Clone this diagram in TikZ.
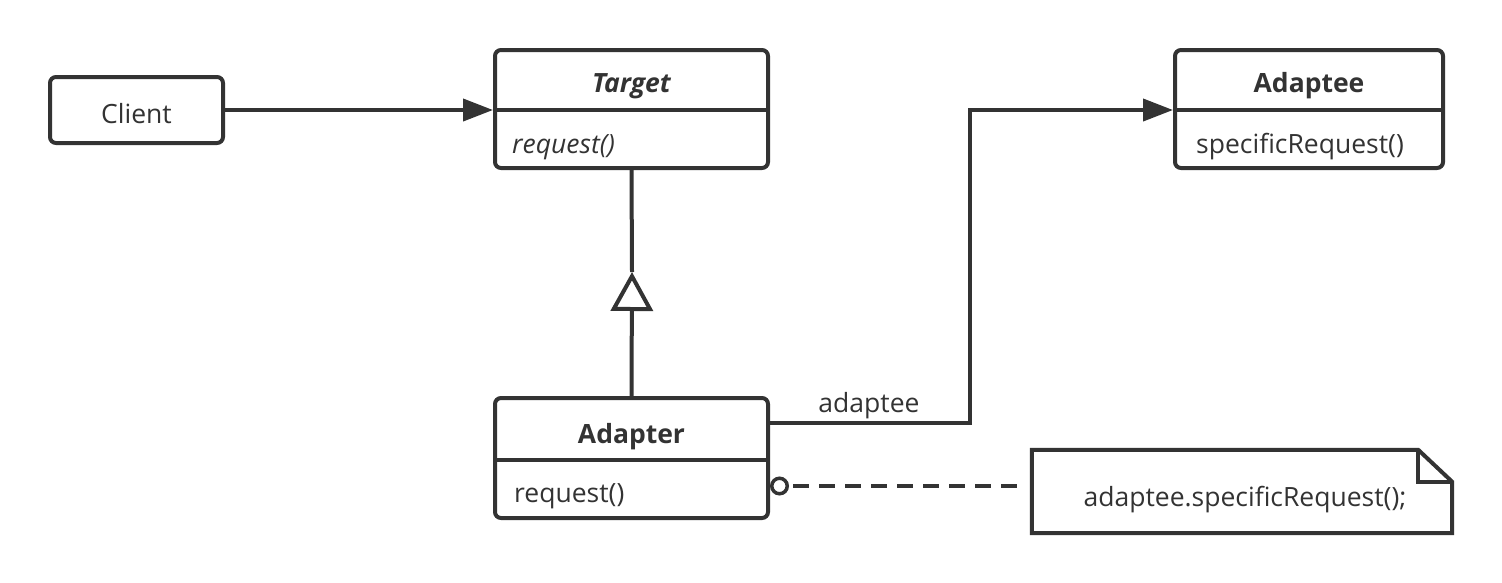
\documentclass[tikz,border=0pt]{standalone}
\usepackage{fontspec}
\setmainfont{Open Sans}
\usetikzlibrary{arrows.meta,calc}
\definecolor{ink}{HTML}{333333}
\tikzset{
  box/.style={draw=ink, line width=4pt, rounded corners=6pt, fill=white, inner sep=0pt},
  conn/.style={draw=ink, line width=4pt},
  lbl/.style={text=ink, inner sep=0pt, font=\fontsize{26.5}{30}\selectfont},
  blbl/.style={lbl, font=\fontsize{26.5}{30}\selectfont\bfseries},
  filltip/.style={-{Triangle[length=30pt,width=22pt]}},
}
\begin{document}
\begin{tikzpicture}[x=1pt,y=-1pt]
\useasboundingbox (0,0) rectangle (1502,582);
% Client
\node[box, minimum width=173pt, minimum height=66pt] (client) at (136.5,110) {};
\node[lbl] (clientt) at (136.5,114) {Client};
% Target
\node[box, minimum width=273pt, minimum height=118pt] (target) at (631.5,109) {};
\draw[conn] (target.west |- 0,110) -- (target.east |- 0,110);
\node[lbl, font=\fontsize{26.5}{30}\selectfont\bfseries\itshape] (tname) at (631.5,86) {Target};
\node[lbl, anchor=west, font=\fontsize{26.5}{30}\selectfont\itshape] (tmeth) at (512,147) {request()};
% Adaptee
\node[box, minimum width=268pt, minimum height=118pt] (adaptee) at (1309,109) {};
\draw[conn] (adaptee.west |- 0,110) -- (adaptee.east |- 0,110);
\node[blbl] (aname) at (1309,86) {Adaptee};
\node[lbl, anchor=west] (ameth) at (1196,147) {specificRequest()};
% Adapter
\node[box, minimum width=273pt, minimum height=120pt] (adapter) at (631.5,458) {};
\draw[conn] (adapter.west |- 0,460) -- (adapter.east |- 0,460);
\node[blbl] (adname) at (631.5,437) {Adapter};
\node[lbl, anchor=west] (admeth) at (514,496) {request()};
% Note
\node[minimum width=420pt, minimum height=83pt, inner sep=0pt] (note) at (1242,491.5) {};
\draw[conn, line join=miter] (note.north west) -- ($(note.north east)+(-34,0)$) -- ($(note.north east)+(0,32)$) -- (note.south east) -- (note.south west) -- cycle;
\draw[conn, line join=miter] ($(note.north east)+(-34,0)$) -- ($(note.north east)+(-34,32)$) -- ($(note.north east)+(0,32)$);
\node[lbl] (notet) at (1245,500) {adaptee.specificRequest();};
% Connectors
\draw[conn, filltip] (client.east) -- (client.east -| target.west);
\coordinate (tri) at (632,272);
\draw[conn, -{Triangle[open,length=39pt,width=42pt,fill=white]}] (adapter.north) -- (tri);
\draw[conn] (tri) -- (target.south);
\coordinate (bend) at (970,423);
\draw[conn, filltip] (adapter.east |- bend) -- (bend) |- (adaptee.west |- 0,110);
\node[lbl] (assoc) at (869,406) {adaptee};
\coordinate (dashend) at (1017,486);
\draw[conn, line width=3.5pt, dash pattern=on 16pt off 10pt, dash phase=20pt, {Circle[open,length=19pt,width=19pt,fill=white]}-] (adapter.east |- dashend) -- (dashend);
\end{tikzpicture}
\end{document}
